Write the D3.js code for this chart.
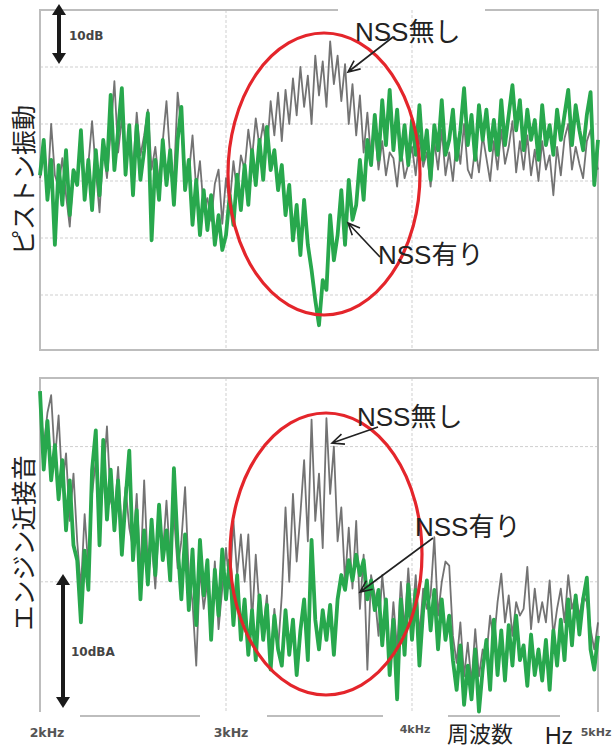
<!DOCTYPE html>
<html>
<head>
<meta charset="utf-8">
<script src="https://cdn.jsdelivr.net/npm/d3@7"></script>
<style>
  body { margin: 0; background: #fff; }
  svg { display: block; }
</style>
</head>
<body>
<div id="chart"></div>
<script>
// frequency grid shared by all traces (Hz)
const freqs = d3.range(2000, 5001, 20);
const tickFreqs = [2000, 3000, 4000, 5000];
const tickLabels = ["2kHz", "3kHz", "4kHz", "5kHz"];

// upper panel - piston vibration, relative dB
const pistonWithout = [
  20.5, 24.5, 18.0, 30.0, 21.0, 19.0, 24.0, 17.5, 12.0, 22.0,
  21.0, 25.5, 19.0, 23.0, 30.5, 22.0, 14.5, 26.0, 20.5, 28.5,
  37.5, 25.0, 31.0, 24.0, 29.0, 22.0, 32.0, 24.5, 28.0, 32.5,
  22.0, 26.0, 19.5, 27.0, 34.0, 24.0, 20.0, 35.5, 29.0, 22.0,
  21.0, 28.0, 18.5, 23.5, 15.0, 17.0, 13.0, 19.5, 22.0, 12.5,
  20.5, 16.0, 23.5, 18.0, 24.5, 22.0, 29.0, 24.0, 31.0, 26.0,
  30.0, 25.0, 34.0, 28.0, 35.5, 27.0, 36.0, 30.0, 38.0, 31.5,
  40.0, 33.0, 38.5, 30.0, 42.0, 35.0, 41.0, 33.0, 44.5, 37.0,
  42.0, 34.0, 40.5, 30.0, 37.0, 28.0, 35.0, 25.0, 32.0, 24.0,
  29.0, 22.0, 27.0, 21.0, 25.0, 24.0, 19.0, 26.0, 20.5, 23.0,
  26.0, 21.0, 28.0, 22.5, 25.0, 19.0, 27.0, 22.0, 29.0, 21.0,
  25.0, 20.0, 27.5, 23.0, 30.0, 22.0, 20.5, 26.0, 21.5, 28.0,
  24.0, 20.0, 27.0, 22.0, 29.0, 23.0, 26.0, 30.5, 21.5, 27.0,
  22.0, 28.0, 21.0, 25.5, 20.0, 27.0, 22.0, 24.5, 17.5, 26.0,
  21.0, 27.5, 30.0, 22.0, 26.0, 23.0, 20.5, 27.0, 29.0, 24.0,
  22.0
];
const pistonWith = [
  21.0, 27.2, 16.7, 23.7, 8.8, 22.8, 15.8, 25.4, 14.0, 21.9,
  19.3, 28.9, 16.7, 23.7, 14.9, 25.4, 17.5, 27.2, 21.9, 35.1,
  21.9, 28.9, 36.3, 21.1, 29.8, 17.5, 29.8, 20.2, 25.4, 31.9,
  9.6, 23.7, 16.7, 27.2, 19.3, 25.4, 15.8, 27.2, 33.0, 18.4,
  23.7, 12.3, 20.2, 10.5, 18.4, 11.4, 17.5, 8.8, 14.0, 7.9,
  10.5, 17.5, 12.3, 21.1, 14.9, 22.8, 15.8, 25.4, 19.3, 27.2,
  20.2, 29.5, 21.9, 25.4, 18.4, 22.8, 14.0, 19.3, 9.6, 15.8,
  7.0, 16.7, 8.8, 4.4, -0.9, -5.3, 2.6, 0.9, 14.0, 6.1,
  10.5, 18.4, 8.8, 20.2, 13.2, 15.8, 23.7, 16.7, 27.2, 22.8,
  31.6, 23.7, 34.2, 26.3, 36.0, 25.4, 32.5, 23.7, 29.8, 22.8,
  30.7, 24.6, 33.3, 23.7, 28.9, 20.2, 29.8, 25.4, 34.2, 24.6,
  27.2, 32.5, 23.7, 28.9, 36.3, 26.3, 31.6, 23.7, 33.3, 27.2,
  32.5, 25.4, 30.7, 24.6, 34.2, 26.3, 31.6, 36.8, 28.9, 34.2,
  25.4, 32.5, 27.2, 30.7, 23.7, 33.3, 26.3, 29.8, 24.6, 32.5,
  27.2, 31.6, 36.0, 26.3, 33.3, 28.9, 25.4, 31.6, 35.6, 19.3,
  27.2
];

// lower panel - sound near the engine, relative dBA
const engineWithout = [
  23.5, 20.0, 22.5, 23.8, 19.0, 22.3, 17.0, 19.5, 14.5, 18.0,
  13.0, 9.5, 15.0, 11.0, 16.5, 19.0, 14.0, 17.5, 21.5, 16.0,
  15.0, 18.5, 13.5, 17.0, 14.0, 12.5, 16.5, 10.5, 17.5, 11.0,
  13.0, 9.5, 14.5, 12.0, 16.0, 11.5, 15.0, 11.0, 13.0, 17.0,
  10.5, 8.5, 3.8, 11.0, 8.0, 10.0, 7.0, 11.5, 6.5, 9.5,
  12.5, 9.5, 14.5, 10.5, 13.5, 10.0, 13.5, 7.0, 12.0, 8.0,
  6.5, 9.0, 4.0, 8.0, 5.0, 9.0, 15.5, 10.0, 16.5, 11.5,
  15.0, 19.0, 13.0, 22.0, 14.5, 18.0, 12.5, 22.1, 16.5, 20.0,
  13.0, 15.5, 10.0, 14.0, 9.5, 14.5, 8.0, 12.0, 3.5, 10.5,
  9.0, 6.0, 10.5, 7.5, 4.5, 8.5, 5.0, 10.0, 6.5, 11.0,
  7.0, 10.5, 6.0, 9.5, 8.0, 9.0, 13.3, 7.5, 10.0, 11.5,
  11.2, 6.0, 4.0, 7.0, 3.0, 5.5, 2.5, 6.5, 3.0, 5.0,
  4.5, 7.5, 5.5, 8.5, 10.6, 7.0, 9.0, 6.0, 8.5, 7.5,
  8.0, 11.1, 6.5, 9.5, 7.0, 8.5, 7.0, 10.1, 6.0, 8.0,
  9.5, 7.0, 10.5, 8.0, 9.0, 7.5, 9.0, 8.5, 6.5, 5.0,
  7.0
];
const engineWith = [
  24.1, 18.3, 21.9, 17.5, 20.1, 16.1, 19.0, 13.8, 17.5, 12.7,
  11.6, 7.0, 12.3, 9.4, 18.3, 21.2, 12.7, 20.5, 14.6, 18.3,
  13.8, 17.5, 12.0, 16.1, 19.7, 11.6, 15.3, 8.7, 13.8, 9.8,
  14.6, 10.5, 15.7, 11.6, 13.8, 10.1, 18.4, 12.7, 8.7, 13.5,
  7.9, 12.4, 6.8, 13.1, 9.0, 11.6, 5.7, 10.9, 7.5, 12.4,
  8.7, 11.6, 6.8, 10.5, 5.7, 8.7, 4.6, 7.9, 4.2, 9.0,
  5.7, 8.3, 3.5, 7.5, 5.0, 3.8, 7.9, 4.6, 7.2, 3.1,
  6.4, 8.7, 4.2, 13.1, 7.2, 5.0, 7.9, 5.7, 8.3, 4.6,
  8.7, 10.5, 9.4, 11.6, 10.1, 12.0, 10.5, 11.6, 8.7, 10.1,
  7.9, 9.4, 5.3, 8.7, 3.1, 7.2, 1.3, 8.7, 4.6, 9.8,
  5.7, 9.4, 3.8, 7.9, 10.1, 6.4, 9.4, 5.0, 8.7, 5.7,
  7.5, 4.2, 2.0, 5.3, 0.9, 3.8, 1.3, 5.0, 0.4, 3.5,
  5.7, 2.0, 7.2, 3.1, 6.4, 2.7, 6.8, 3.8, 7.5, 4.2,
  5.3, 2.3, 6.1, 3.1, 5.0, 2.7, 5.7, 2.0, 6.4, 3.8,
  7.2, 4.2, 8.7, 5.3, 9.0, 6.1, 8.7, 10.3, 5.0, 3.5,
  6.0
];

const topGrid = [0, 10, 20, 30, 40];
const bottomGrid = [10, 20];

const width = 615, height = 749;
const fontJP = "'Noto Sans CJK JP', 'Noto Sans', sans-serif";
const fontNote = "'Liberation Sans', 'Noto Sans CJK JP', sans-serif";
const green = "#28a84d", greyLine = "#5a5a5a", red = "#e4252b", gridColor = "#cfcfcf";

const svg = d3.select("#chart").append("svg")
  .attr("width", width)
  .attr("height", height)
  .attr("viewBox", [0, 0, width, height]);

const x = d3.scaleLinear().domain([2000, 5000]).range([40, 598]);
const yTop = d3.scaleLinear().domain([-10, 50]).range([352, 10]);
const yBot = d3.scaleLinear().domain([0, 25]).range([717, 379]);

// panel bounds in pixels
const topBox = { y0: 10, y1: 350 };
const botBox = { y0: 378, y1: 712 };

function grid(yScale, levels, box) {
  const g = svg.append("g")
    .attr("stroke", gridColor)
    .attr("stroke-width", 1)
    .attr("stroke-dasharray", "3,2");
  g.selectAll("line.h").data(levels).join("line")
    .attr("x1", x(2000)).attr("x2", x(5000))
    .attr("y1", d => yScale(d)).attr("y2", d => yScale(d));
  g.selectAll("line.v").data([3000, 4000]).join("line")
    .attr("x1", d => x(d)).attr("x2", d => x(d))
    .attr("y1", box.y0).attr("y2", box.y1);
}

grid(yTop, topGrid, topBox);
grid(yBot, bottomGrid, botBox);

// frames
const frame = svg.append("g").attr("stroke", "#bdbdbd").attr("stroke-width", 2).attr("fill", "none");
frame.append("path").attr("d",
  `M338,${topBox.y0}H${x(2000)}V${topBox.y1}H${x(5000)}V${topBox.y0}H485`);
frame.append("path").attr("d", `M${x(2000)},${botBox.y1}V${botBox.y0}H${x(5000)}V${botBox.y1}`);
// broken axis line under the lower panel
frame.selectAll("line.axis").data([[80, 200], [267, 383], [448, 560]]).join("line")
  .attr("x1", d => d[0]).attr("x2", d => d[1])
  .attr("y1", 716).attr("y2", 716);

function trace(values, yScale, color, w, op) {
  const line = d3.line()
    .x((d, i) => x(freqs[i]))
    .y(d => yScale(d));
  svg.append("path")
    .datum(values)
    .attr("fill", "none")
    .attr("stroke", color)
    .attr("stroke-width", w)
    .attr("stroke-opacity", op)
    .attr("stroke-linejoin", "round")
    .attr("d", line);
}

trace(pistonWithout, yTop, greyLine, 1.8, 0.85);
trace(pistonWith, yTop, green, 3.8, 1);
trace(engineWithout, yBot, greyLine, 1.8, 0.85);
trace(engineWith, yBot, green, 3.8, 1);

// red ellipses around the 3.5kHz region
svg.append("ellipse")
  .attr("cx", 324).attr("cy", 174).attr("rx", 96).attr("ry", 141)
  .attr("fill", "none").attr("stroke", red).attr("stroke-width", 3.2);
svg.append("ellipse")
  .attr("cx", 326).attr("cy", 554).attr("rx", 96).attr("ry", 141)
  .attr("fill", "none").attr("stroke", red).attr("stroke-width", 3.2);

// double headed scale arrows
function scaleArrow(cx, ya, yb) {
  const g = svg.append("g").attr("fill", "#1a1a1a");
  g.append("line").attr("x1", cx).attr("x2", cx).attr("y1", ya + 8).attr("y2", yb - 8)
    .attr("stroke", "#1a1a1a").attr("stroke-width", 4);
  g.append("path").attr("d", `M${cx},${ya}L${cx - 7},${ya + 11}L${cx + 7},${ya + 11}Z`);
  g.append("path").attr("d", `M${cx},${yb}L${cx - 7},${yb - 11}L${cx + 7},${yb - 11}Z`);
}
scaleArrow(59, 4, 64);
scaleArrow(63, 574, 708);

svg.append("text").attr("x", 69).attr("y", 40)
  .attr("font-family", "'DejaVu Sans', Verdana, sans-serif").attr("font-size", 12).attr("font-weight", "bold")
  .attr("fill", "#444").text("10dB");
svg.append("text").attr("x", 71).attr("y", 656)
  .attr("font-family", "'DejaVu Sans', Verdana, sans-serif").attr("font-size", 12).attr("font-weight", "bold")
  .attr("fill", "#444").text("10dBA");

// annotation arrows (open heads)
function pointer(x1, y1, x2, y2) {
  const a = Math.atan2(y2 - y1, x2 - x1), len = 13, spread = 0.42;
  const p = `M${x1},${y1}L${x2},${y2}` +
    `M${x2 - len * Math.cos(a - spread)},${y2 - len * Math.sin(a - spread)}L${x2},${y2}` +
    `L${x2 - len * Math.cos(a + spread)},${y2 - len * Math.sin(a + spread)}`;
  svg.append("path").attr("d", p).attr("fill", "none").attr("stroke", "#222").attr("stroke-width", 1.6);
}
pointer(393, 37, 348, 72);
pointer(380, 257, 348, 223);
pointer(378, 427, 332, 443);
pointer(433, 538, 360, 592);

const notes = [
  { text: "NSS無し", x: 355, y: 41 },
  { text: "NSS有り", x: 378, y: 264 },
  { text: "NSS無し", x: 357, y: 426 },
  { text: "NSS有り", x: 415, y: 536 }
];
svg.selectAll("text.note").data(notes).join("text")
  .attr("class", "note")
  .attr("x", d => d.x).attr("y", d => d.y)
  .attr("font-family", fontNote).attr("font-size", 26)
  .attr("fill", "#222")
  .text(d => d.text);

// y titles
svg.append("text")
  .attr("transform", "translate(22,180) rotate(-90)")
  .attr("text-anchor", "middle").attr("dominant-baseline", "central")
  .attr("font-family", fontJP).attr("font-size", 25).attr("fill", "#222")
  .text("ピストン振動");
svg.append("text")
  .attr("transform", "translate(22,543) rotate(-90)")
  .attr("text-anchor", "middle").attr("dominant-baseline", "central")
  .attr("font-family", fontJP).attr("font-size", 25).attr("fill", "#222")
  .text("エンジン近接音");

// frequency tick labels
const tickStyle = [
  { dx: 7, dy: 737, size: 12.5 },
  { dx: 5, dy: 737, size: 12.5 },
  { dx: 3, dy: 733, size: 11 },
  { dx: -2, dy: 736, size: 11 }
];
svg.selectAll("text.tick").data(tickFreqs).join("text")
  .attr("class", "tick")
  .attr("x", (d, i) => x(d) + tickStyle[i].dx)
  .attr("y", (d, i) => tickStyle[i].dy)
  .attr("text-anchor", "middle")
  .attr("font-family", "'DejaVu Sans', Verdana, sans-serif")
  .attr("font-weight", "bold")
  .attr("font-size", (d, i) => tickStyle[i].size)
  .attr("fill", "#555")
  .text((d, i) => tickLabels[i]);

svg.append("text").attr("x", 447).attr("y", 742)
  .attr("font-family", fontJP).attr("font-size", 22).attr("fill", "#222").text("周波数");
svg.append("text").attr("x", 545).attr("y", 744)
  .attr("font-family", "'Liberation Sans', Arial, sans-serif").attr("font-size", 23).attr("fill", "#222").text("Hz");
</script>
</body>
</html>
